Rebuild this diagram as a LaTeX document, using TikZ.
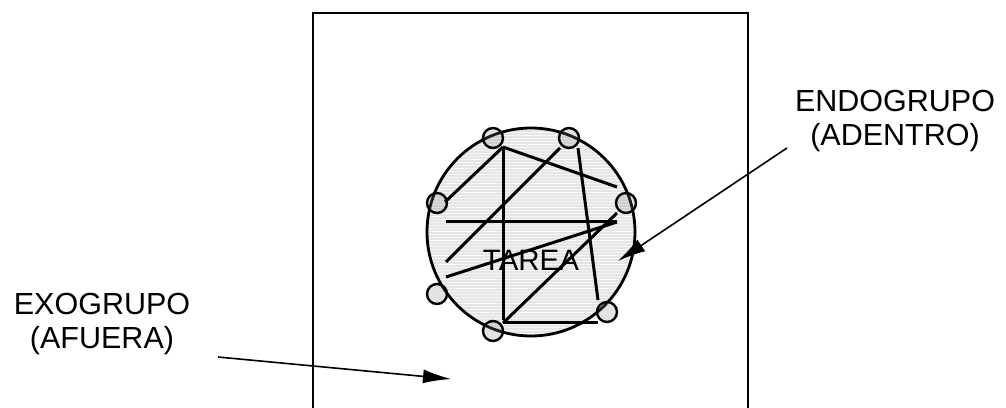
\documentclass[tikz,border=0pt]{standalone}
\usepackage{fontspec}
\setmainfont{Liberation Sans}
\usetikzlibrary{arrows.meta}
\begin{document}
\begin{tikzpicture}[x=1pt,y=-1pt,
  member/.style={circle,draw=black,line width=2.4pt,fill=gray,fill opacity=0.22,text opacity=1,minimum size=20pt,inner sep=0pt},
  chord/.style={line width=3pt},
  label/.style={font=\fontsize{30.5}{34}\selectfont,align=center,inner sep=0pt},
  pointer/.style={line width=1.6pt,-{Latex[length=28pt,width=14pt]}}]
\useasboundingbox (0,0) rectangle (1006,407);
% outer box (exogroup space)
\draw[line width=2.4pt] (313,412) -- (313,13) -- (748,13) -- (748,412);
% group circle
\node[circle,minimum size=208pt,inner sep=0pt] (grp) at (531,232) {};
\begin{scope}
  \clip (531,232) circle[radius=104];
  \fill[gray!7] (420,120) rectangle (640,345);
  \foreach \yy in {128,131,...,340} {\draw[gray!20,line width=1.1pt] (420,\yy) -- (640,\yy);}
\end{scope}
\draw[line width=2.8pt] (531,232) circle[radius=104];
% chords
\coordinate (a1) at (503,147);
\coordinate (a2) at (445,202);
\coordinate (a3) at (503,320);
\coordinate (a4) at (617,187);
\coordinate (b1) at (560,148);
\coordinate (b2) at (446,262);
\coordinate (d1) at (578,148);
\coordinate (d2) at (598,300);
\coordinate (h1) at (446,221);
\coordinate (h2) at (617,221);
\coordinate (e1) at (617,222);
\coordinate (e2) at (446,277);
\coordinate (f1) at (617,213);
\coordinate (f2) at (503,323);
\coordinate (g1) at (503,322);
\coordinate (g2) at (598,322);
\draw[chord] (a1) -- (a2);
\draw[chord] (a1) -- (a3);
\draw[chord] (a1) -- (a4);
\draw[chord] (b1) -- (b2);
\draw[chord] (d1) -- (d2);
\draw[chord] (h1) -- (h2);
\draw[chord] (e1) -- (e2);
\draw[chord] (f1) -- (f2);
\draw[chord] (g1) -- (g2);
% members
\node[member] (c1) at (493,138) {};
\node[member] (c2) at (569,138) {};
\node[member] (c3) at (437,203) {};
\node[member] (c4) at (626,203) {};
\node[member] (c5) at (437,294) {};
\node[member] (c6) at (607,312) {};
\node[member] (c7) at (493,331) {};
% task label
\node[font=\fontsize{29.5}{32}\selectfont,inner sep=0pt] (tarea) at (531,260) {TAREA};
% labels
\node[label] (endo) at (895,121) {ENDOGRUPO\\(ADENTRO)};
\node[label] (exo) at (102,324) {EXOGRUPO\\(AFUERA)};
\coordinate (endoS) at (787,148);
\coordinate (endoT) at (618,261);
\coordinate (exoS) at (218,357);
\coordinate (exoT) at (451,379);
\draw[pointer] (endoS) -- (endoT);
\draw[pointer] (exoS) -- (exoT);
\end{tikzpicture}
\end{document}
